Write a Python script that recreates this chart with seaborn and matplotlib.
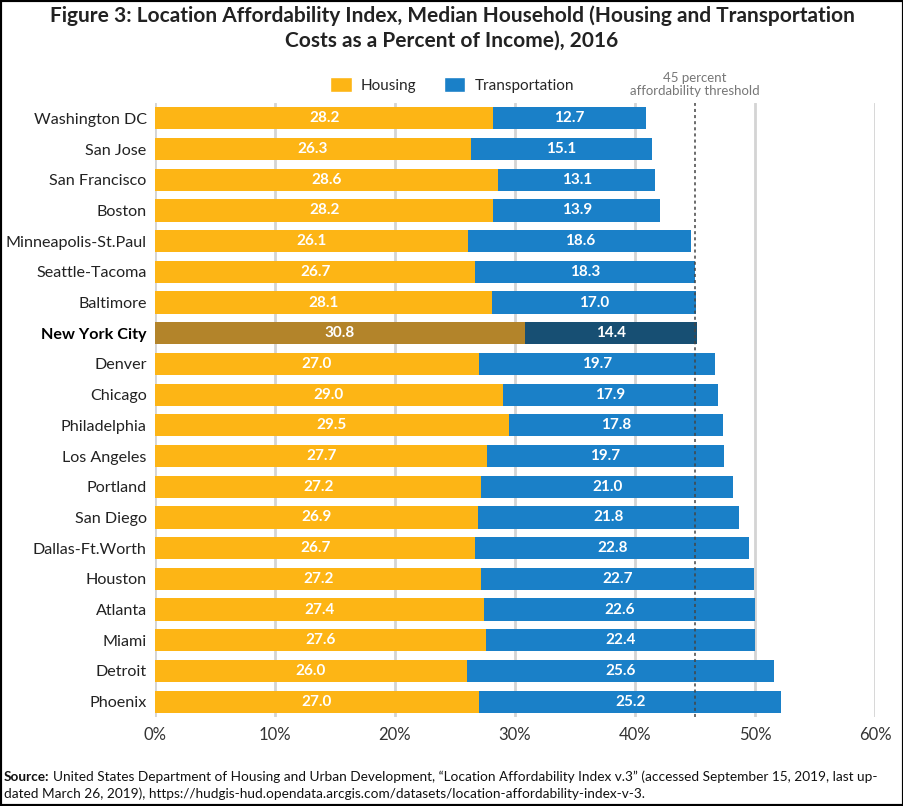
import pandas as pd
import seaborn as sns
import matplotlib.pyplot as plt
from matplotlib.patches import Rectangle, Patch

# data (percent of income)
cities = ['Washington DC', 'San Jose', 'San Francisco', 'Boston', 'Minneapolis-St.Paul',
          'Seattle-Tacoma', 'Baltimore', 'New York City', 'Denver', 'Chicago',
          'Philadelphia', 'Los Angeles', 'Portland', 'San Diego', 'Dallas-Ft.Worth',
          'Houston', 'Atlanta', 'Miami', 'Detroit', 'Phoenix']
housing = [28.2, 26.3, 28.6, 28.2, 26.1, 26.7, 28.1, 30.8, 27.0, 29.0,
           29.5, 27.7, 27.2, 26.9, 26.7, 27.2, 27.4, 27.6, 26.0, 27.0]
transport = [12.7, 15.1, 13.1, 13.9, 18.6, 18.3, 17.0, 14.4, 19.7, 17.9,
             17.8, 19.7, 21.0, 21.8, 22.8, 22.7, 22.6, 22.4, 25.6, 25.2]
highlight = 'New York City'
threshold = 45
xticks = [0, 10, 20, 30, 40, 50, 60]

df = pd.DataFrame({'city': cities, 'housing': housing, 'transport': transport})
df['total'] = df['housing'] + df['transport']

HOUSING, TRANSPORT = '#FDB515', '#1A80C8'
HOUSING_HL, TRANSPORT_HL = '#B3842A', '#174F73'

sns.set_theme(style='white')
plt.rcParams['font.family'] = ['Lato', 'DejaVu Sans']

fig = plt.figure(figsize=(9.04, 8.06), dpi=100)
ax = fig.add_axes([155/904, 1 - 717/806, 720/904, 614/806])

pal_t = {c: (TRANSPORT_HL if c == highlight else TRANSPORT) for c in cities}
pal_h = {c: (HOUSING_HL if c == highlight else HOUSING) for c in cities}

# total bar in blue, housing drawn on top of it
sns.barplot(data=df, x='total', y='city', hue='city', palette=pal_t, legend=False,
            errorbar=None, width=0.72, saturation=1, linewidth=0, ax=ax, zorder=2)
sns.barplot(data=df, x='housing', y='city', hue='city', palette=pal_h, legend=False,
            errorbar=None, width=0.72, saturation=1, linewidth=0, ax=ax, zorder=3)

for i, (h, t) in enumerate(zip(housing, transport)):
    ax.text(h / 2, i, f'{h:.1f}', ha='center', va='center', color='white',
            fontsize=11, fontweight='bold', zorder=5)
    ax.text(h + t / 2, i, f'{t:.1f}', ha='center', va='center', color='white',
            fontsize=11, fontweight='bold', zorder=5)

ax.axvline(threshold, color='#444444', linestyle=(0, (2, 2)), linewidth=1.1, zorder=4)
ax.text(threshold, -0.68, '45 percent\naffordability threshold', ha='center', va='bottom',
        color='#777777', fontsize=9.5, linespacing=1.15)

ax.set_xlim(0, 60)
ax.set_ylim(19.5, -0.5)
ax.set_xticks(xticks)
ax.set_xticklabels([f'{x}%' for x in xticks])
ax.set_xlabel('')
ax.set_ylabel('')
ax.grid(axis='x', color='#D4D4D4', linewidth=2)
ax.set_axisbelow(True)
sns.despine(ax=ax, left=True, bottom=True)
ax.tick_params(axis='x', length=0, labelsize=12, colors='#333333', pad=7)
ax.tick_params(axis='y', length=0, labelsize=11.6, colors='#222222', pad=6)
for lab in ax.get_yticklabels():
    if lab.get_text() == highlight:
        lab.set_fontweight('bold')
        lab.set_color('black')

handles = [Patch(facecolor=HOUSING, label='Housing'), Patch(facecolor=TRANSPORT, label='Transportation')]
fig.legend(handles=handles, loc='center', bbox_to_anchor=(452/904, 1 - 85/806), ncol=2,
           frameon=False, fontsize=11, handlelength=1.4, handleheight=1.1,
           handletextpad=0.6, columnspacing=1.8)

fig.text(0.5, 1 - 28/806,
         'Figure 3: Location Affordability Index, Median Household (Housing and Transportation\n'
         'Costs as a Percent of Income), 2016',
         ha='center', va='center', fontsize=15, fontweight='bold', color='#222222', linespacing=1.3)

src = fig.text(4/904, 1 - 781/806, 'Source:', fontsize=9.8, fontweight='bold', va='baseline', color='#111111')
ax.annotate('United States Department of Housing and Urban Development, \u201cLocation Affordability '
            'Index v.3\u201d (accessed September 15, 2019, last up-',
            xy=(1, 0), xycoords=src, xytext=(2.5, 0), textcoords='offset points',
            va='bottom', fontsize=9.8, color='#111111', annotation_clip=False)
fig.text(4/904, 1 - 798/806, 'dated March 26, 2019), https://hudgis-hud.opendata.arcgis.com/datasets/'
         'location-affordability-index-v-3.', fontsize=9.8, va='baseline', color='#111111')

fig.add_artist(Rectangle((0, 0), 1, 1, transform=fig.transFigure, fill=False,
                         edgecolor='black', linewidth=3))

fig.savefig('out.png', dpi=100)
